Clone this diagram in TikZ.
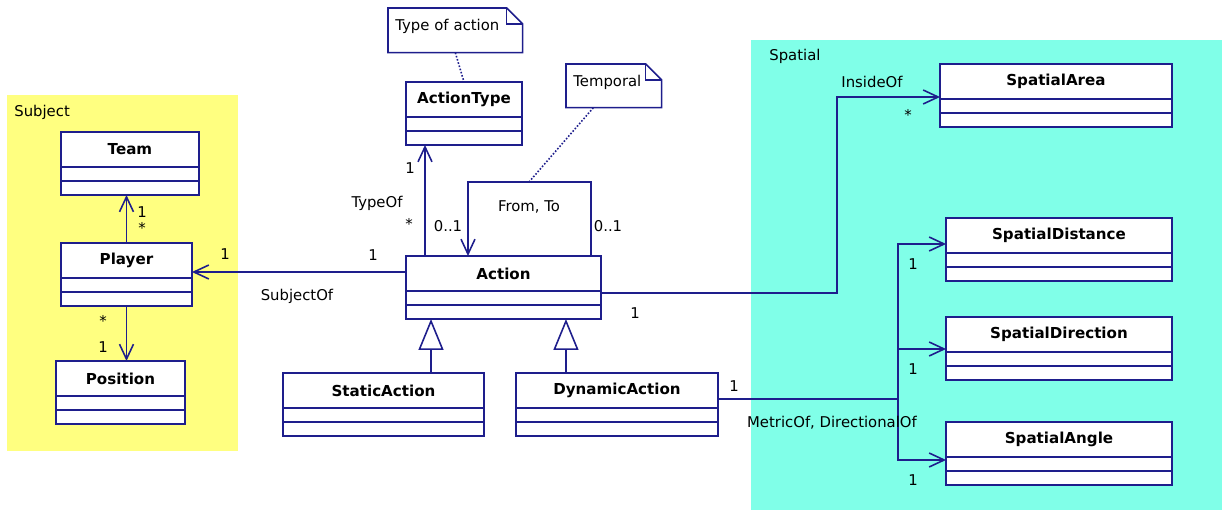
\documentclass[tikz,border=0pt]{standalone}
\usepackage{fontspec}
\setmainfont{DejaVu Sans}
\usetikzlibrary{arrows.meta, positioning}
\definecolor{umlblue}{HTML}{1E1E8C}
\definecolor{subjectyellow}{HTML}{FFFF80}
\definecolor{spatialcyan}{HTML}{80FFE8}
\tikzset{
    classname/.style={
        draw=umlblue,
        fill=white,
        line width=0.9pt,
        anchor=north west,
        minimum height=0.7cm,
        inner sep=0pt,
        outer sep=0pt,
        font=\fontsize{8.6}{10}\selectfont\bfseries
    },
    classcomp/.style={draw=umlblue, fill=white, line width=0.9pt, minimum height=0.28cm, inner sep=0pt, outer sep=0pt},
    package/.style={anchor=north west, inner sep=0pt, outer sep=0pt},
    notebox/.style={anchor=north west, fill=white, inner xsep=0.14cm, inner ysep=0pt, align=left,
        text depth=0.2cm, font=\fontsize{8.45}{10}\selectfont},
    noteline/.style={draw=umlblue, line width=0.9pt, line join=miter},
    anchorline/.style={draw=umlblue, line width=0.9pt, densely dotted},
    mult/.style={font=\fontsize{8.45}{10}\selectfont, inner sep=0pt},
    link/.style={draw=umlblue, line width=0.9pt},
    assoc/.style={link, -{Straight Barb[length=0.3cm, width=0.28cm]}},
    gener/.style={link, -{Triangle[open, length=0.62cm, width=0.5cm]}}
}
% one class = name box and two empty compartments
\newcommand{\umlclass}[4]{%
    \node[classname, minimum width=#3] (#1) at #2 {#4};
    \node[classcomp, minimum width=#3, below=0pt of #1] (#1A) {};
    \node[classcomp, minimum width=#3, below=0pt of #1A] (#1B) {};
}

\begin{document}
\begin{tikzpicture}[x=0.02cm, y=-0.02cm]
    \useasboundingbox (0,0) rectangle (1222,510);

    % packages
    \node[package, fill=subjectyellow, minimum width=4.62cm, minimum height=7.12cm] (subjectpkg) at (7,95) {};
    \node[package, fill=spatialcyan, minimum width=9.42cm, minimum height=9.4cm] (spatialpkg) at (751,40) {};
    \node[mult, anchor=west] (subjectlbl) at (14,112) {Subject};
    \node[mult, anchor=west] (spatiallbl) at (769,56) {Spatial};

    % classes
    \umlclass{team}{(61,132)}{2.76cm}{Team}
    \umlclass{player}{(61,243)}{2.62cm}{Player}
    \umlclass{position}{(56,361)}{2.58cm}{Position}
    \umlclass{actiontype}{(406,82)}{2.32cm}{ActionType}
    \umlclass{action}{(406,256)}{3.9cm}{Action}
    \umlclass{staticaction}{(283,373)}{4.02cm}{StaticAction}
    \umlclass{dynamicaction}{(516,373)}{4.04cm}{DynamicAction}
    \umlclass{spatialarea}{(940,64)}{4.64cm}{SpatialArea}
    \umlclass{spatialdistance}{(946,218)}{4.52cm}{SpatialDistance}
    \umlclass{spatialdirection}{(946,317)}{4.52cm}{SpatialDirection}
    \umlclass{spatialangle}{(946,422)}{4.52cm}{SpatialAngle}

    % notes
    \node[notebox, text width=2.4cm, minimum height=0.88cm] (typenote) at (388,8) {Type of action};
    \node[notebox, text width=1.62cm, minimum height=0.86cm] (temporalnote) at (566,64) {Temporal};
    \draw[noteline] (typenote.north west) -- ([xshift=-0.32cm]typenote.north east) -- ([yshift=-0.32cm]typenote.north east)
        -- (typenote.south east) -- (typenote.south west) -- cycle;
    \draw[noteline] ([xshift=-0.32cm]typenote.north east) |- ([yshift=-0.32cm]typenote.north east);
    \draw[noteline] (temporalnote.north west) -- ([xshift=-0.32cm]temporalnote.north east) -- ([yshift=-0.32cm]temporalnote.north east)
        -- (temporalnote.south east) -- (temporalnote.south west) -- cycle;
    \draw[noteline] ([xshift=-0.32cm]temporalnote.north east) |- ([yshift=-0.32cm]temporalnote.north east);

    \coordinate (looptop) at (529,182);
    \coordinate (fork) at (898,399);

    % connectors
    \draw[assoc] (player.north) -- (player.north |- teamB.south);
    \draw[assoc] (playerB.south) -- (playerB.south |- position.north);
    \draw[assoc] ([yshift=0.03cm]action.west) -- ([yshift=0.03cm]action.west -| player.east);
    \draw[assoc] ([xshift=0.38cm]action.north west) -- ([xshift=0.38cm]action.north west |- actiontypeB.south);
    \draw[assoc] ([xshift=3.7cm]action.north west) |- (looptop) -| ([xshift=1.24cm]action.north west);
    \draw[assoc] ([yshift=-0.04cm]actionA.north east) -- ++(236,0) |- ([yshift=0.04cm]spatialarea.south west);
    \draw[link] ([yshift=0.18cm]dynamicaction.south east) -- (fork);
    \draw[assoc] (fork) |- ([yshift=0.18cm]spatialdistance.south west);
    \draw[assoc] (fork) |- ([yshift=0.06cm]spatialdirection.south west);
    \draw[assoc] (fork) |- ([yshift=-0.06cm]spatialangle.south west);
    \draw[gener] ([xshift=0.5cm]staticaction.north -| actionB.west) -- ([xshift=0.5cm]actionB.south west);
    \draw[gener] ([xshift=-0.7cm]dynamicaction.north -| actionB.east) -- ([xshift=-0.7cm]actionB.south east);
    \draw[anchorline] (typenote.south) -- (actiontype.north);
    \draw[anchorline] ([xshift=-0.41cm]temporalnote.south) -- (looptop);

    % multiplicities and roles
    \node[mult] (teamone) at (142,212) {1};
    \node[mult] (playerstar) at (142,228) {*};
    \node[mult] (posstar) at (103,321) {*};
    \node[mult] (posone) at (103,347) {1};
    \node[mult] (subjone) at (225,254) {1};
    \node[mult] (actsubjone) at (373,255) {1};
    \node[mult] (subjectof) at (297,296) {SubjectOf};
    \node[mult] (typeone) at (410,168) {1};
    \node[mult] (typestar) at (409,224) {*};
    \node[mult] (typeof) at (377,203) {TypeOf};
    \node[mult] (fromzero) at (448,226) {0..1};
    \node[mult] (fromto) at (529,207) {From, To};
    \node[mult] (tozero) at (608,226) {0..1};
    \node[mult] (insideone) at (635,313) {1};
    \node[mult] (insideof) at (872,82) {InsideOf};
    \node[mult] (areastar) at (908,115) {*};
    \node[mult] (dynone) at (734,386) {1};
    \node[mult] (metricof) at (832,423) {MetricOf, DirectionalOf};
    \node[mult] (distone) at (913,264) {1};
    \node[mult] (dirone) at (913,369) {1};
    \node[mult] (angleone) at (913,480) {1};
\end{tikzpicture}
\end{document}
